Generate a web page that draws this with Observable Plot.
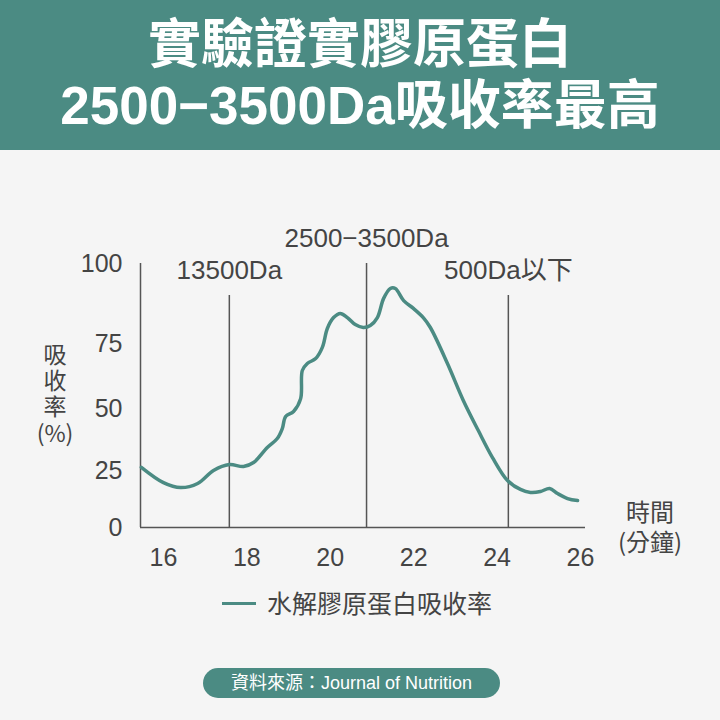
<!DOCTYPE html>
<html><head><meta charset="utf-8">
<script src="https://cdn.jsdelivr.net/npm/d3@7"></script>
<script src="https://cdn.jsdelivr.net/npm/@observablehq/plot@0.6"></script>
<style>
  body{margin:0;width:720px;height:720px;background:#f5f5f5;position:relative;overflow:hidden;font-family:"Liberation Sans","Noto Sans CJK TC",sans-serif;color:#444;}
  .abs{position:absolute;}
  #header{left:0;top:0;width:720px;height:150px;background:#4b8b83;}
  .tline{position:absolute;left:0;width:720px;text-align:center;color:#fff;font-weight:700;font-size:53px;line-height:60px;white-space:nowrap;}
  #chart{left:0;top:150px;}
  .ych{position:absolute;left:33px;width:44px;height:26px;text-align:center;font-size:23px;line-height:26px;font-family:'Noto Sans CJK TC',sans-serif;}
</style>
</head><body>
<div id="header" class="abs">
  <div class="tline" style="top:15px">實驗證實膠原蛋白</div>
  <div class="tline" style="top:76px">2500−3500Da吸收率最高</div>
</div>
<div id="chart" class="abs"></div>
<div class="ych" style="top:340px">吸</div>
<div class="ych" style="top:366px">收</div>
<div class="ych" style="top:392px">率</div>
<div class="ych" style="top:419px">(%)</div>
<div class="abs" style="left:600px;top:496px;width:100px;text-align:center;font-size:24px;line-height:30px;font-family:'Noto Sans CJK TC',sans-serif;">時間<br>(分鐘)</div>
<div class="abs" style="left:222px;top:602px;width:34px;height:3px;background:#4b8b83;"></div>
<div class="abs" style="left:267px;top:587px;font-size:25px;line-height:30px;white-space:nowrap;font-family:'Noto Sans CJK TC',sans-serif;">水解膠原蛋白吸收率</div>
<div class="abs" style="left:203px;top:668px;width:297px;height:30px;border-radius:15px;background:#4b8b83;color:#fff;font-size:18px;line-height:30px;text-align:center;white-space:nowrap;">資料來源：Journal of Nutrition</div>
<script>
// Curve data (time in minutes, absorption %)
const times = [15.47,16.0,16.41,16.82,17.2,17.58,17.92,18.16,18.49,18.73,18.85,18.93,19.12,19.29,19.33,19.45,19.65,19.81,19.93,20.08,20.24,20.41,20.6,20.79,20.96,21.13,21.28,21.44,21.56,21.76,22.0,22.23,22.4,22.81,23.19,23.55,23.89,24.25,24.56,24.8,25.04,25.26,25.45,25.69,25.93];
const absorption = [26.3,19.7,17.5,19.3,25.0,27.4,26.6,28.2,34.3,37.9,41.9,46.8,48.8,53.8,64.6,67.3,69.2,73.5,79.7,83.1,84.4,83.1,80.9,80.0,80.6,83.1,89.1,92.2,92.2,88.4,85.9,83.1,80.0,67.3,53.1,41.1,30.2,20.6,16.7,15.4,15.8,17.1,14.9,12.7,11.8];
// Molecular weight markers
const markerTimes = [17.58, 20.87, 24.27];
const markerTops = [90, 100, 90];
const markerLabels = ["13500Da", "2500−3500Da", "500Da以下"];
// Axes
const xTicks = [16, 18, 20, 22, 24, 26];
const yTicks = [0, 25, 50, 75, 100];
const xExtent = [15.45, 26.12];

const curve = times.map((t, i) => ({t, v: absorption[i]}));
const markers = markerTimes.map((t, i) => ({t, top: markerTops[i], label: markerLabels[i]}));

const teal = "#4b8b83", ink = "#444", axisCol = "#555";
const font = "'Liberation Sans','Noto Sans CJK TC',sans-serif";
const chart = Plot.plot({
  width: 720,
  height: 430,
  marginLeft: 140,
  marginRight: 135,
  marginTop: 113,
  marginBottom: 53,
  style: {background: "transparent", fontFamily: font, fontSize: "25px", color: ink, overflow: "visible"},
  x: {type: "linear", domain: xExtent, range: [140, 585]},
  y: {type: "linear", domain: yTicks, range: [377, 320, 258, 193, 113]},
  marks: [
    Plot.ruleX(markers, {x: "t", y1: 0, y2: "top", stroke: axisCol, strokeWidth: 1.5}),
    Plot.ruleX([xExtent[0]], {y1: 0, y2: 100, stroke: axisCol, strokeWidth: 1.5}),
    Plot.ruleY([0], {x1: xExtent[0], x2: xExtent[1], stroke: axisCol, strokeWidth: 1.5}),
    Plot.line(curve, {x: "t", y: "v", stroke: teal, strokeWidth: 3.5, curve: "catmull-rom"}),
    Plot.text(markers, {x: "t", y: "top", text: "label", dy: -25, fontSize: 26, fill: ink, textAnchor: "middle", lineAnchor: "middle"}),
    Plot.axisY(yTicks, {tickSize: 0, tickPadding: 18, fontSize: 25, label: null, fill: ink}),
    Plot.axisX(xTicks, {tickSize: 0, tickPadding: 21, fontSize: 25, label: null, fill: ink, tickFormat: d => String(d)})
  ]
});
document.getElementById("chart").appendChild(chart);
</script>
</body></html>
